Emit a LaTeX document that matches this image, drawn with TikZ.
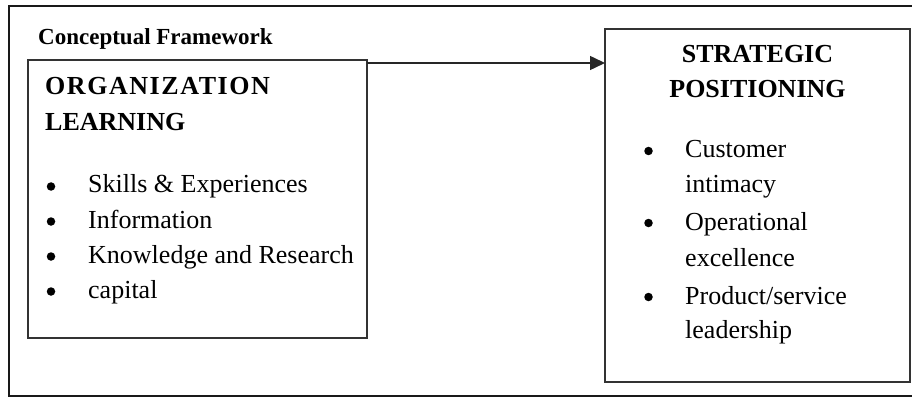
\documentclass[tikz,border=0pt]{standalone}
\usepackage{fontspec}
\setmainfont{Liberation Serif}
\newfontfamily\widettl[LetterSpace=6]{Liberation Serif}
\usetikzlibrary{arrows.meta}
\begin{document}
\begin{tikzpicture}[x=1pt,y=-1pt,
  box/.style={draw=black!80, line width=1.6pt, inner sep=0pt, outer sep=0pt},
  frame/.style={draw=black!90, line width=2pt},
  txt/.style={anchor=base west, inner sep=0pt, font=\fontsize{26}{30}\selectfont},
  ttl/.style={anchor=base west, inner sep=0pt, font=\fontsize{26}{30}\selectfont\bfseries},
  cttl/.style={anchor=base, inner sep=0pt, font=\fontsize{26}{30}\selectfont\bfseries},
  captxt/.style={anchor=base west, inner sep=0pt, font=\fontsize{23}{27}\selectfont\bfseries},
  bul/.style={circle, fill=black, inner sep=0pt, minimum size=8.5pt},
  arr/.style={line width=1.5pt, draw=black!85, -{Triangle[length=15pt,width=14pt]}}
]
\useasboundingbox (0,0) rectangle (912,398);
\draw[frame] (9,6) rectangle (935,396);
\node[captxt] (cf) at (38,45) {Conceptual Framework};
\node[box, minimum width=339pt, minimum height=278pt] (lbox) at (197.5,199) {};
\node[box, minimum width=305pt, minimum height=353pt] (rbox) at (757.5,205.5) {};
\draw[arr] ([yshift=-3pt]lbox.north east) coordinate (a0) -- (a0 -| rbox.west);
% left box
\node[ttl] (l1) at (45,95) {\widettl\bfseries ORGANIZATION};
\node[ttl] (l2) at (45,131) {LEARNING};
\node[bul] (lb1) at (51,186.5) {};
\node[txt] (li1) at (88,193) {Skills \& Experiences};
\node[bul] (lb2) at (51,221.5) {};
\node[txt] (li2) at (88,228) {Information};
\node[bul] (lb3) at (51,256.5) {};
\node[txt] (li3) at (88,263) {Knowledge and Research};
\node[bul] (lb4) at (51,291.5) {};
\node[txt] (li4) at (88,298) {capital};
% right box
\node[cttl] (r1) at (757.5,63) {STRATEGIC};
\node[cttl] (r2) at (757.5,98) {POSITIONING};
\node[bul] (rb1) at (648.5,151) {};
\node[txt] (ri1) at (685,158) {Customer};
\node[txt] (ri1b) at (685,193) {intimacy};
\node[bul] (rb2) at (648.5,223) {};
\node[txt] (ri2) at (685,230) {Operational};
\node[txt] (ri2b) at (685,266) {excellence};
\node[bul] (rb3) at (648.5,297) {};
\node[txt] (ri3) at (685,304) {Product/service};
\node[txt] (ri3b) at (685,338) {leadership};
\end{tikzpicture}
\end{document}
